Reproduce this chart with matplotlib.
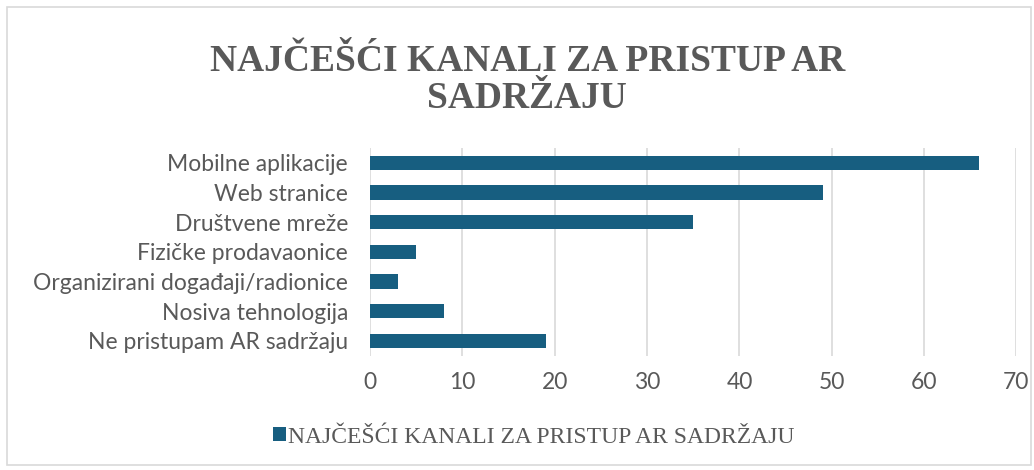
import matplotlib.pyplot as plt
from matplotlib.patches import Rectangle

categories = ["Mobilne aplikacije", "Web stranice", "Društvene mreže",
              "Fizičke prodavaonice", "Organizirani događaji/radionice",
              "Nosiva tehnologija", "Ne pristupam AR sadržaju"]
values = [66, 49, 35, 5, 3, 8, 19]
series_name = "NAJČEŠĆI KANALI ZA PRISTUP AR SADRŽAJU"
ticks = [0, 10, 20, 30, 40, 50, 60, 70]

bar_color = "#175E80"
text_color = "#595959"

fig = plt.figure(figsize=(10.34, 4.70), dpi=100)
ax = fig.add_axes([0.358, 0.243, 0.625, 0.442])

y = list(range(len(categories)))
ax.barh(y, values, height=0.48, color=bar_color, label=series_name, zorder=3)
ax.set_ylim(len(categories) - 0.5, -0.5)
ax.set_xlim(0, 70)
ax.set_xticks(ticks)
ax.set_yticks(y)
ax.set_yticklabels(categories)
for lab in ax.get_xticklabels() + ax.get_yticklabels():
    lab.set_family("Lato")
ax.tick_params(axis="both", length=0, colors=text_color, labelsize=16.5)
ax.tick_params(axis="x", pad=12)
ax.tick_params(axis="y", pad=16)
ax.grid(axis="x", color="#d9d9d9", linewidth=1.2, zorder=0)
for s in ax.spines.values():
    s.set_visible(False)

fig.text(0.51, 0.87, "NAJČEŠĆI KANALI ZA PRISTUP AR", ha="center", va="center",
         fontsize=27, fontweight="bold", family="Liberation Serif", color=text_color)
fig.text(0.51, 0.79, "SADRŽAJU", ha="center", va="center",
         fontsize=27, fontweight="bold", family="Liberation Serif", color=text_color)

leg = fig.legend(loc="center", bbox_to_anchor=(0.516, 0.07), frameon=False,
                 prop={"family": "Liberation Serif", "size": 17},
                 handlelength=0.55, handleheight=0.55, handletextpad=0.1)
for t in leg.get_texts():
    t.set_color(text_color)

fig.patches.append(Rectangle((0.007, 0.01), 0.99, 0.975, transform=fig.transFigure,
                             fill=False, edgecolor="#d9d9d9", linewidth=1.2))

fig.savefig("out.png", dpi=100)
